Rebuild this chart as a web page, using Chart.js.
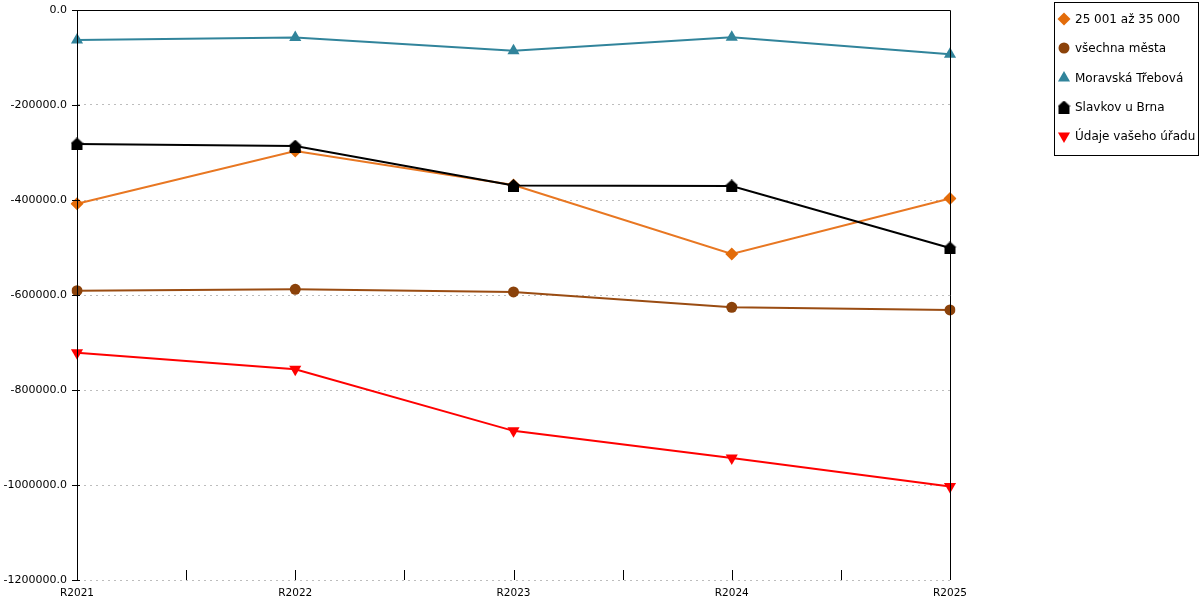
<!DOCTYPE html>
<html>
<head>
<meta charset="utf-8">
<script src="https://cdn.jsdelivr.net/npm/chart.js@4/dist/chart.umd.min.js"></script>
<style>
html,body{margin:0;padding:0;background:#fff;}
#wrap{width:1200px;height:600px;position:relative;}
</style>
</head>
<body>
<div id="wrap"><canvas id="c" width="1200" height="600"></canvas></div>
<script>
const categories = ["R2021", "R2022", "R2023", "R2024", "R2025"];
const seriesNames = ["25 001 až 35 000", "všechna města", "Moravská Třebová", "Slavkov u Brna", "Údaje vašeho úřadu"];
const valuesSize = [-408000, -297000, -368500, -513500, -397000];
const valuesAll = [-591000, -588000, -593500, -626000, -631500];
const valuesMoravska = [-63000, -58000, -86000, -57500, -93000];
const valuesSlavkov = [-282000, -286500, -369500, -370500, -501000];
const valuesUrad = [-721500, -756500, -886000, -943000, -1003000];
const yTicks = [0, -200000, -400000, -600000, -800000, -1000000, -1200000];

function houseCanvas(color) {
  const c = document.createElement('canvas');
  c.width = 13; c.height = 13;
  const x = c.getContext('2d');
  x.fillStyle = color;
  x.beginPath();
  x.moveTo(6.5, 0);
  x.lineTo(0, 6);
  x.lineTo(1, 6);
  x.lineTo(1, 13);
  x.lineTo(12, 13);
  x.lineTo(12, 6);
  x.lineTo(13, 6);
  x.closePath();
  x.fill();
  return c;
}
const house = houseCanvas('#000000');

const colors = ['#E87722', '#9A4C12', '#31849B', '#000000', '#FF0000'];
const pointColors = ['#E36C0A', '#8B420A', '#31849B', '#000000', '#FF0000'];
const styles = ['rectRot', 'circle', 'triangle', house, 'triangle'];
const rotations = [0, 0, 0, 0, 180];
const radii = [6.5, 5.5, 7, 6.5, 7];
const dataArr = [valuesSize, valuesAll, valuesMoravska, valuesSlavkov, valuesUrad];

const datasets = seriesNames.map((n, i) => ({
  label: n,
  data: dataArr[i],
  order: -i,
  borderColor: colors[i],
  backgroundColor: pointColors[i],
  pointBackgroundColor: pointColors[i],
  pointBorderColor: pointColors[i],
  pointBorderWidth: 0,
  pointStyle: styles[i],
  pointRotation: rotations[i],
  pointRadius: radii[i],
  pointHoverRadius: radii[i],
  borderWidth: 2,
  tension: 0,
  fill: false
}));

const framePlugin = {
  id: 'frame',
  afterDraw(chart) {
    const ctx = chart.ctx;
    const a = chart.chartArea;
    const xs = chart.scales.x;
    const ys = chart.scales.y;
    ctx.save();
    ctx.strokeStyle = '#000';
    ctx.lineWidth = 1;
    ctx.beginPath();
    ctx.moveTo(a.left + 0.5, a.bottom);
    ctx.lineTo(a.left + 0.5, a.top + 0.5);
    ctx.lineTo(a.right + 0.5, a.top + 0.5);
    ctx.lineTo(a.right + 0.5, a.bottom);
    yTicks.forEach(v => {
      const y = Math.round(ys.getPixelForValue(v)) + 0.5;
      ctx.moveTo(a.left - 5, y);
      ctx.lineTo(a.left + 3, y);
    });
    for (let i = 0; i < categories.length; i++) {
      const px = Math.round(xs.getPixelForValue(i)) + 0.5;
      ctx.moveTo(px, a.bottom);
      ctx.lineTo(px, a.bottom - 10);
      if (i < categories.length - 1) {
        const mx = Math.round((xs.getPixelForValue(i) + xs.getPixelForValue(i + 1)) / 2) + 0.5;
        ctx.moveTo(mx, a.bottom);
        ctx.lineTo(mx, a.bottom - 10);
      }
    }
    ctx.stroke();

    const lx = 1054, ly = 2, lw = 144, lh = 153;
    ctx.fillStyle = '#fff';
    ctx.fillRect(lx, ly, lw, lh);
    ctx.strokeRect(lx + 0.5, ly + 0.5, lw, lh);
    ctx.font = '12px "DejaVu Sans"';
    ctx.textBaseline = 'middle';
    ctx.textAlign = 'left';
    const rowY = [19, 48, 78, 107, 136];
    seriesNames.forEach((name, i) => {
      const cy = rowY[i];
      const cx = 1064;
      ctx.fillStyle = pointColors[i];
      ctx.strokeStyle = pointColors[i];
      if (Chart.helpers && Chart.helpers.drawPoint) {
        Chart.helpers.drawPoint(ctx, {pointStyle: styles[i], rotation: rotations[i], radius: radii[i], borderWidth: 0}, cx, cy);
      }
      ctx.fillStyle = '#000';
      ctx.fillText(name, 1075, cy + 1);
    });
    ctx.restore();
  }
};

new Chart(document.getElementById('c'), {
  type: 'line',
  data: { labels: categories, datasets: datasets },
  options: {
    responsive: false,
    animation: false,
    devicePixelRatio: 1,
    layout: { padding: { top: 10, right: 250, left: 0, bottom: 0 } },
    plugins: { legend: { display: false }, tooltip: { enabled: false } },
    scales: {
      x: {
        type: 'category',
        offset: false,
        grid: { display: false, drawTicks: false },
        border: { display: false },
        ticks: { color: '#000', font: { family: 'DejaVu Sans', size: 10.5 }, padding: 7, maxRotation: 0, autoSkip: false },
        afterFit(s) { s.height = 20; s.paddingLeft = 0; s.paddingRight = 0; }
      },
      y: {
        min: -1200000,
        max: 0,
        afterBuildTicks(s) { s.ticks = yTicks.map(v => ({ value: v })); },
        grid: { color: '#BDBDBD', drawTicks: false, tickLength: 0 },
        border: { display: true, color: '#000', dash: [2, 4] },
        ticks: {
          color: '#000',
          font: { family: 'DejaVu Sans', size: 11 },
          padding: 10,
          callback: v => Number(v).toFixed(1)
        },
        afterFit(s) { s.width = 77; s.paddingTop = 0; s.paddingBottom = 0; }
      }
    }
  },
  plugins: [framePlugin]
});
</script>
</body>
</html>
